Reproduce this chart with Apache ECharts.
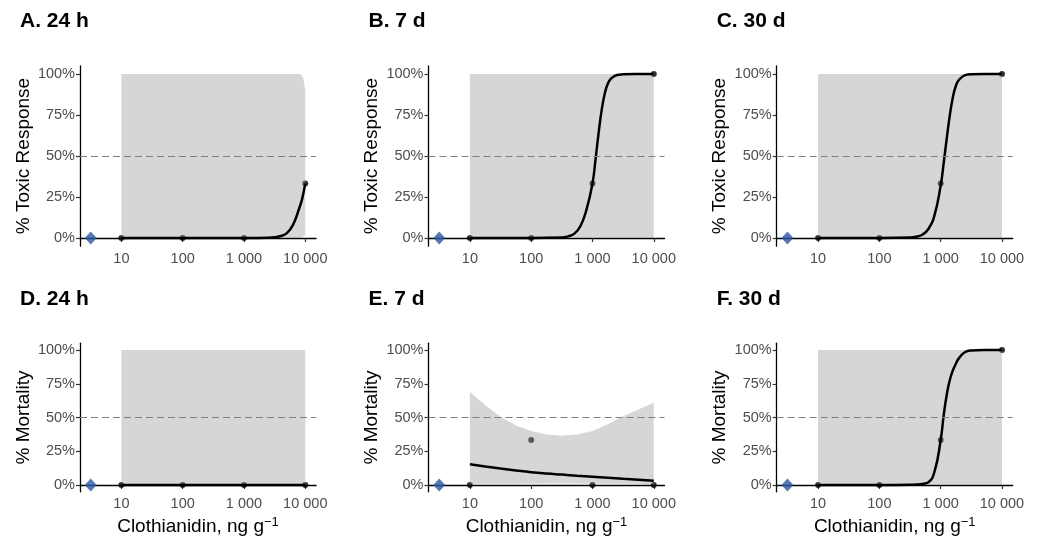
<!DOCTYPE html>
<html>
<head>
<meta charset="utf-8">
<script src="https://cdn.jsdelivr.net/npm/echarts@6/dist/echarts.min.js"></script>
<style>
  html, body { margin: 0; padding: 0; background: #fff; }
  #chart { width: 1043px; height: 540px; }
</style>
</head>
<body>
<div id="chart"></div>
<script>
// x values are log10 of the dose in ng/g, y values are percent
const tickLogs = [1, 2, 3, 4]
const tickLabels = ['10', '100', '1 000', '10 000']
const yTicks = [0, 25, 50, 75, 100]
const panelTitles = ['A. 24 h', 'B. 7 d', 'C. 30 d', 'D. 24 h', 'E. 7 d', 'F. 30 d']
const rowTitles = ['% Toxic Response', '% Mortality']

// observed responses at 10, 100, 1 000, 10 000 ng/g
const doseLogs = [1, 2, 3, 4]
const obsA = [0, 0, 0, 33.3]
const obsB = [0, 0, 33.3, 100]
const obsC = [0, 0, 33.3, 100]
const obsD = [0, 0, 0, 0]
const obsE = [0, 33.3, 0, 0]
const obsF = [0, 0, 33.3, 100]

// control group (blue diamond)
const controlLog = 0.5
const controlPct = 0

// fitted curves
const fitAx = [1, 2, 3, 3.4, 3.5, 3.6, 3.7, 3.8, 3.9, 3.95, 4]
const fitAy = [0, 0, 0, 0.2, 0.5, 1.2, 3, 8, 18, 24, 33.3]
const fitSx = [1, 2, 2.5, 2.6, 2.7, 2.8, 2.9, 3, 3.05, 3.1, 3.15, 3.2, 3.25, 3.3, 3.4, 3.5, 3.7, 4]
const fitBy = [0, 0, 0.3, 1, 2.5, 7, 17, 33.3, 48, 64, 78, 88, 94, 97, 99.4, 99.8, 100, 100]
const fitCy = [0, 0, 0.3, 0.8, 2, 5.5, 14, 32, 46, 61, 75, 86, 93, 96.5, 99.3, 99.9, 100, 100]
const fitFy = [0, 0, 0.1, 0.3, 0.8, 2, 10, 33.3, 52, 67, 78, 85, 90, 94, 98.5, 99.7, 100, 100]
const fitDx = [1, 4]
const fitDy = [0, 0]
const fitEx = [1, 1.25, 1.5, 1.75, 2, 2.25, 2.5, 2.75, 3, 3.25, 3.5, 3.75, 4]
const fitEy = [15.3, 13.7, 12.2, 10.8, 9.5, 8.5, 7.7, 6.9, 6.2, 5.4, 4.6, 3.9, 3.2]

// confidence bands
const fullBandX = [1, 4]
const fullUpper = [100, 100]
const fullLower = [0, 0]
const bandAupX = [1, 3.9, 3.94, 3.97, 4]
const bandAup = [100, 100, 99.5, 97, 90]
const bandAloX = [1, 3.9, 4]
const bandAlo = [0, 0, 1.5]
const bandEupX = [1, 1.25, 1.5, 1.75, 2, 2.25, 2.5, 2.75, 3, 3.25, 3.5, 3.75, 4]
const bandEup = [69, 59, 50.5, 44, 40, 37.5, 36.5, 37.5, 40, 45, 51, 56, 61]
const bandEloX = [1, 2.5, 4]
const bandElo = [0.8, 1.2, 0.8]

const panels = [
  { obs: obsA, fx: fitAx, fy: fitAy, ux: bandAupX, uy: bandAup, lx: bandAloX, ly: bandAlo },
  { obs: obsB, fx: fitSx, fy: fitBy, ux: fullBandX, uy: fullUpper, lx: fullBandX, ly: fullLower },
  { obs: obsC, fx: fitSx, fy: fitCy, ux: fullBandX, uy: fullUpper, lx: fullBandX, ly: fullLower },
  { obs: obsD, fx: fitDx, fy: fitDy, ux: fullBandX, uy: fullUpper, lx: fullBandX, ly: fullLower },
  { obs: obsE, fx: fitEx, fy: fitEy, ux: bandEupX, uy: bandEup, lx: bandEloX, ly: bandElo },
  { obs: obsF, fx: fitSx, fy: fitFy, ux: fullBandX, uy: fullUpper, lx: fullBandX, ly: fullLower }
]

const font = 'Liberation Sans, Arial, Helvetica, sans-serif'
const colLeft = [80, 428.5, 776.7]
const rowTop = [65.8, 343.25]
const rowHeight = [180.4, 148.5]
const plotWidth = 236

const zip = (xs, ys) => xs.map((x, k) => [x, ys[k]])

let grids = [], xAxes = [], yAxes = [], titles = [], series = []

panels.forEach((p, i) => {
  let row = Math.floor(i / 3), col = i % 3
  grids.push({ left: colLeft[col], top: rowTop[row], width: plotWidth, height: rowHeight[row] })
  titles.push({
    text: panelTitles[i], left: colLeft[col] - 60, top: row === 0 ? 11 : 289, padding: 0,
    textStyle: { fontSize: 21, fontWeight: 'bold', color: '#000', fontFamily: font }
  })
  xAxes.push({
    type: 'value', gridIndex: i, min: 0.325, max: 4.175,
    axisLine: { lineStyle: { color: '#000', width: 1.3 } },
    axisTick: { customValues: tickLogs, length: 4, lineStyle: { color: '#333', width: 1.2 } },
    axisLabel: {
      customValues: tickLogs, margin: 5, color: '#4d4d4d', fontSize: 14.5, fontFamily: font,
      formatter: v => tickLabels[tickLogs.indexOf(v)]
    },
    splitLine: { show: false },
    name: row === 1 ? '{a|Clothianidin, ng g}{s|\u22121}' : '',
    nameLocation: 'middle', nameGap: 24,
    nameTextStyle: {
      rich: {
        a: { fontSize: 19, color: '#000', fontFamily: font, lineHeight: 23 },
        s: { fontSize: 13, color: '#000', fontFamily: font, verticalAlign: 'top' }
      }
    }
  })
  yAxes.push({
    type: 'value', gridIndex: i, min: -5, max: 105,
    axisLine: { show: true, lineStyle: { color: '#000', width: 1.3 } },
    axisTick: { show: true, customValues: yTicks, length: 4, lineStyle: { color: '#333', width: 1.2 } },
    axisLabel: {
      customValues: yTicks, margin: 5, color: '#4d4d4d', fontSize: 14.5, fontFamily: font,
      formatter: v => v + '%'
    },
    splitLine: { show: false },
    name: rowTitles[row], nameLocation: 'middle', nameGap: 47,
    nameTextStyle: { fontSize: 19, color: '#000', fontFamily: font }
  })

  // observed points, under the band like in the original
  series.push({
    type: 'scatter', xAxisIndex: i, yAxisIndex: i, z: 1, silent: true,
    symbolSize: 6, itemStyle: { color: '#000' },
    data: zip(doseLogs, p.obs)
  })

  let poly = zip(p.ux, p.uy).concat(zip(p.lx, p.ly).reverse())
  series.push({
    type: 'custom', xAxisIndex: i, yAxisIndex: i, z: 2, silent: true,
    data: poly,
    renderItem(params, api) {
      if (params.dataIndex !== 0) return
      return {
        type: 'polygon',
        shape: { points: poly.map(pt => api.coord(pt)) },
        style: { fill: 'rgba(153,153,153,0.4)' }
      }
    }
  })

  series.push({
    type: 'line', xAxisIndex: i, yAxisIndex: i, z: 3, silent: true,
    data: zip(p.fx, p.fy), showSymbol: false, smooth: 0.5,
    lineStyle: { color: '#000', width: 2.5 },
    markLine: {
      silent: true, symbol: 'none', label: { show: false },
      lineStyle: { color: '#7f7f7f', type: [7, 4], width: 1.1 },
      data: [{ yAxis: 50 }]
    }
  })

  series.push({
    type: 'scatter', xAxisIndex: i, yAxisIndex: i, z: 4, silent: true,
    symbol: 'diamond', symbolSize: [12, 13], itemStyle: { color: '#2c58a4' },
    data: [[controlLog, controlPct]]
  })
})

const myChart = echarts.init(document.getElementById('chart'))
myChart.setOption({
  backgroundColor: '#fff',
  animation: false,
  title: titles,
  grid: grids,
  xAxis: xAxes,
  yAxis: yAxes,
  series: series
})
</script>
</body>
</html>
